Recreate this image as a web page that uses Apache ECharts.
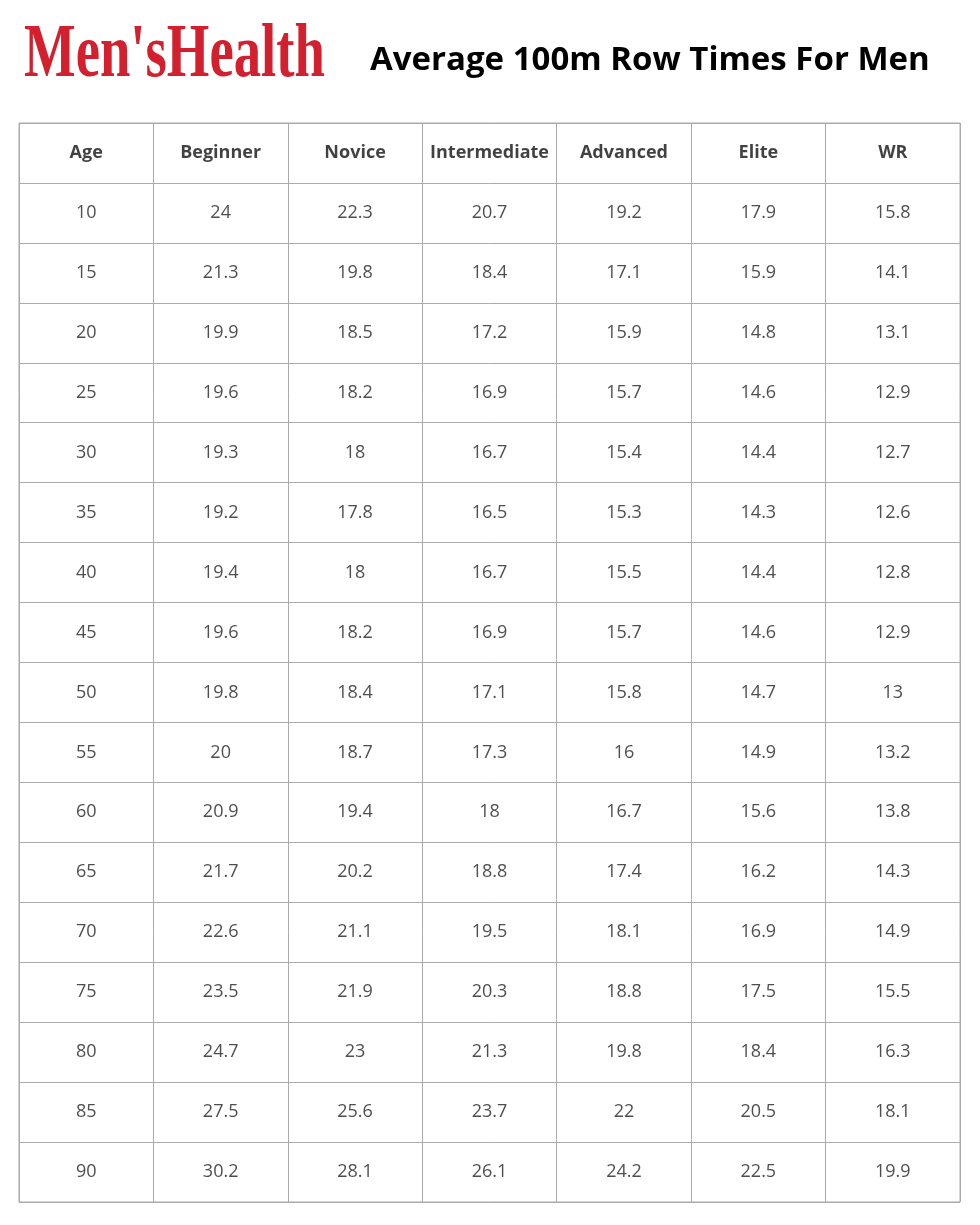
<!DOCTYPE html>
<html>
<head>
<meta charset="utf-8">
<script src="https://cdn.jsdelivr.net/npm/echarts@6/dist/echarts.min.js"></script>
<style>html,body{margin:0;padding:0;background:#fff}#chart{width:980px;height:1225px}</style>
</head>
<body>
<div id="chart"></div>
<script>
// table data
const headers = ['Age', 'Beginner', 'Novice', 'Intermediate', 'Advanced', 'Elite', 'WR'];
const ages = ['10', '15', '20', '25', '30', '35', '40', '45', '50', '55', '60', '65', '70', '75', '80', '85', '90'];
const beginner = ['24', '21.3', '19.9', '19.6', '19.3', '19.2', '19.4', '19.6', '19.8', '20', '20.9', '21.7', '22.6', '23.5', '24.7', '27.5', '30.2'];
const novice = ['22.3', '19.8', '18.5', '18.2', '18', '17.8', '18', '18.2', '18.4', '18.7', '19.4', '20.2', '21.1', '21.9', '23', '25.6', '28.1'];
const intermediate = ['20.7', '18.4', '17.2', '16.9', '16.7', '16.5', '16.7', '16.9', '17.1', '17.3', '18', '18.8', '19.5', '20.3', '21.3', '23.7', '26.1'];
const advanced = ['19.2', '17.1', '15.9', '15.7', '15.4', '15.3', '15.5', '15.7', '15.8', '16', '16.7', '17.4', '18.1', '18.8', '19.8', '22', '24.2'];
const elite = ['17.9', '15.9', '14.8', '14.6', '14.4', '14.3', '14.4', '14.6', '14.7', '14.9', '15.6', '16.2', '16.9', '17.5', '18.4', '20.5', '22.5'];
const wr = ['15.8', '14.1', '13.1', '12.9', '12.7', '12.6', '12.8', '12.9', '13', '13.2', '13.8', '14.3', '14.9', '15.5', '16.3', '18.1', '19.9'];

const columns = [ages, beginner, novice, intermediate, advanced, elite, wr];
const rowKeys = ['h'].concat(ages.map((a, i) => 'r' + i));

const headerCells = headers.map((h, c) => [c, 0, h]);
const bodyCells = [];
columns.forEach((col, c) => {
    col.forEach((v, r) => bodyCells.push([c, r + 1, v]));
});

const chart = echarts.init(document.getElementById('chart'));
const lineColor = '#aaaaaa';
chart.setOption({
    backgroundColor: '#fff',
    animation: false,
    graphic: [
        {
            type: 'text', left: 24, top: 18, scaleX: 0.72,
            style: {text: "Men'sHealth", fill: '#d2202f', font: 'bold 76px "Liberation Serif"'}
        },
        {
            type: 'text', left: 370, top: 44,
            style: {text: 'Average 100m Row Times For Men', fill: '#000', font: 'bold 33px "Open Sans"'}
        }
    ],
    grid: {left: 19, top: 123, width: 941, height: 1079, show: true, borderColor: lineColor, borderWidth: 1},
    xAxis: {
        type: 'category', data: headers.map((h, i) => i), boundaryGap: true,
        axisLine: {show: false}, axisTick: {show: false}, axisLabel: {show: false},
        splitLine: {show: true, lineStyle: {color: lineColor, width: 1}}
    },
    yAxis: {
        type: 'category', data: rowKeys.map((k, i) => i), inverse: true, boundaryGap: true,
        axisLine: {show: false}, axisTick: {show: false}, axisLabel: {show: false},
        splitLine: {show: true, lineStyle: {color: lineColor, width: 1}}
    },
    series: [
        {
            type: 'scatter', symbolSize: 0, data: headerCells,
            label: {show: true, position: 'inside', formatter: p => p.data[2],
                color: '#111', fontSize: 18, fontWeight: 'bold', fontFamily: 'Open Sans'}
        },
        {
            type: 'scatter', symbolSize: 0, data: bodyCells,
            label: {show: true, position: 'inside', formatter: p => p.data[2],
                color: '#222', fontSize: 18, fontFamily: 'Open Sans'}
        }
    ]
});
</script>
</body>
</html>
